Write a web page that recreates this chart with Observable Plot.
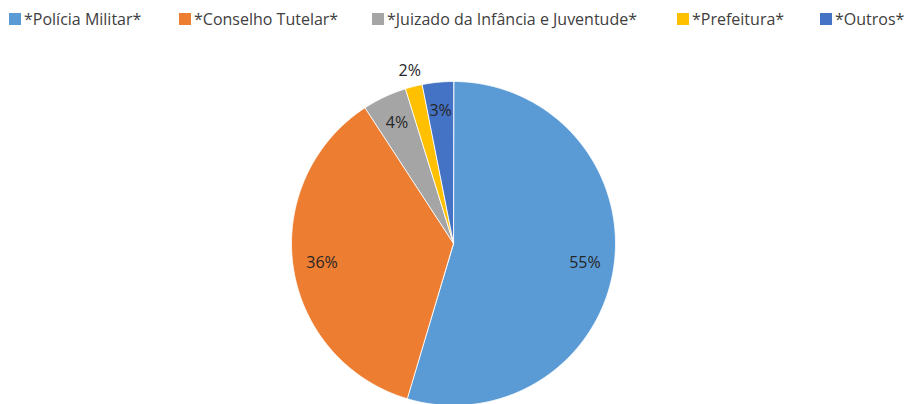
<!DOCTYPE html>
<html>
<head>
<meta charset="utf-8">
<script src="https://cdn.jsdelivr.net/npm/d3@7"></script>
<script src="https://cdn.jsdelivr.net/npm/@observablehq/plot@0.6"></script>
<style>
  html, body { margin: 0; padding: 0; background: #fff; width: 904px; height: 404px; overflow: hidden; }
  body { font-family: "Open Sans", "Liberation Sans", sans-serif; color: #404040; }
  #legend { position: relative; height: 40px; width: 904px; }
  .item { position: absolute; top: 8px; display: flex; align-items: center; font-size: 16px; white-space: nowrap; }
  .sw { width: 12px; height: 12px; margin-right: 3px; }
  #chart { position: absolute; top: 40px; left: 0; }
</style>
</head>
<body>
<div id="legend"></div>
<div id="chart"></div>
<script>
const categories = ["*Polícia Militar*", "*Conselho Tutelar*", "*Juizado da Infância e Juventude*", "*Prefeitura*", "*Outros*"];
const values = [54.6, 36.2, 4.4, 1.7, 3.1];
const labels = ["55%", "36%", "4%", "2%", "3%"];
const colors = ["#5B9BD5", "#ED7D31", "#A5A5A5", "#FFC000", "#4472C4"];
const legendLeft = [9, 179, 372, 677, 820];

// legend
const legend = document.getElementById("legend");
categories.forEach((c, i) => {
  const it = document.createElement("div");
  it.className = "item";
  it.style.left = legendLeft[i] + "px";
  const sw = document.createElement("span");
  sw.className = "sw";
  sw.style.background = colors[i];
  it.appendChild(sw);
  it.appendChild(document.createTextNode(c));
  legend.appendChild(it);
});

// pie geometry via d3.pie (clockwise from 12 o'clock)
const data = categories.map((name, i) => ({name, value: values[i], label: labels[i]}));
const arcs = d3.pie().value(d => d.value).sort(null)(data);
const polys = [];
const labelPts = [];
arcs.forEach(a => {
  const name = a.data.name;
  polys.push({name, x: 0, y: 0});
  const steps = Math.max(2, Math.ceil((a.endAngle - a.startAngle) / 0.005));
  for (let k = 0; k <= steps; k++) {
    const t = a.startAngle + (a.endAngle - a.startAngle) * k / steps;
    polys.push({name, x: Math.sin(t), y: Math.cos(t)});
  }
  const mid = (a.startAngle + a.endAngle) / 2;
  const share = a.data.value / d3.sum(values);
  const r = share < 0.02 ? 1.1 : 0.82;
  labelPts.push({name, x: r * Math.sin(mid), y: r * Math.cos(mid), label: a.data.label});
});

const cx = 453, cy = 203, R = 162;
const plot = Plot.plot({
  width: 904,
  height: 364,
  margin: 0,
  x: {domain: [-1, 1], range: [cx - R, cx + R], axis: null},
  y: {domain: [-1, 1], range: [cy + R, cy - R], axis: null},
  color: {domain: categories, range: colors},
  style: {fontFamily: "'Open Sans', 'Liberation Sans', sans-serif", background: "#fff"},
  marks: [
    Plot.line(polys, {x: "x", y: "y", z: "name", fill: "name", stroke: "white", strokeWidth: 1, strokeOpacity: 0.9, curve: "linear-closed"}),
    Plot.text(labelPts, {x: "x", y: "y", text: "label", fill: "#262626", fontSize: 16})
  ]
});
document.getElementById("chart").appendChild(plot);
</script>
</body>
</html>
